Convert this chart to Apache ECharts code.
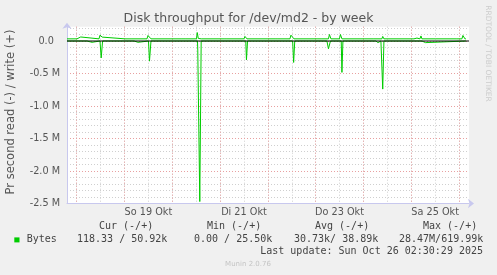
<!DOCTYPE html>
<html><head><meta charset="utf-8">
<script src="https://cdn.jsdelivr.net/npm/echarts@6/dist/echarts.min.js"></script>
<style>html,body{margin:0;padding:0;background:#f0f0f0;}#c{width:497px;height:275px;}</style>
</head><body><div id="c"></div>
<script>
// ---- data (x in hours since Sat 18 Oct 2025 00:00, y in bytes/s) ----
const xMinHour = -4.87;
const xMaxHour = 197;
const dayStartHours = [0, 24, 48, 72, 96, 120, 144, 168, 192];
const xLabelHours = [36, 84, 132, 180];
const xTickLabels = ['So 19 Okt', 'Di 21 Okt', 'Do 23 Okt', 'Sa 25 Okt'];
const yTicks = [-2500000, -2000000, -1500000, -1000000, -500000, 0];
const yTickLabels = ['-2.5 M', '-2.0 M', '-1.5 M', '-1.0 M', '-0.5 M', '0.0'];
const yMin = -2500000, yMax = 220000;

const writePoints = [
  [-4.87,33e3],[0.15,33e3],[0.55,62e3],[2.01,62e3],[2.51,33e3],
  [11.20,33e3],[11.70,90e3],[12.30,100e3],[12.80,60e3],[13.21,33e3],
  [24.25,33e3],[24.75,58e3],[25.25,33e3],
  [26.76,33e3],[27.26,55e3],[27.77,33e3],
  [35.30,33e3],[35.80,85e3],[36.80,85e3],[37.30,33e3],
  [48.35,33e3],[48.85,48e3],[49.35,33e3],
  [52.87,33e3],[53.37,58e3],[53.87,33e3],
  [54.87,33e3],[55.37,55e3],[55.87,33e3],
  [60.15,33e3],[60.55,130e3],[61.05,40e3],[62.51,33e3],
  [72.45,33e3],[72.95,60e3],[73.45,33e3],
  [74.45,33e3],[74.96,52e3],[75.46,33e3],
  [84.00,33e3],[84.50,70e3],[85.00,60e3],[85.50,33e3],
  [96.05,33e3],[96.55,58e3],[97.05,33e3],
  [100.06,33e3],[100.56,58e3],[101.07,33e3],
  [107.09,33e3],[107.59,90e3],[108.59,85e3],[109.10,33e3],
  [121.15,33e3],[121.65,58e3],[122.15,33e3],
  [123.16,33e3],[123.66,52e3],[124.16,33e3],
  [126.42,33e3],[126.92,100e3],[127.42,70e3],[127.67,33e3],
  [131.94,33e3],[132.44,100e3],[132.84,70e3],[133.19,33e3],
  [144.75,33e3],[145.25,62e3],[145.75,33e3],
  [149.26,33e3],[149.76,58e3],[150.26,33e3],
  [153.27,33e3],[153.68,70e3],[154.28,33e3],
  [156.31,33e3],[156.81,62e3],[157.31,33e3],
  [168.35,33e3],[168.86,45e3],[169.36,33e3],
  [170.36,33e3],[170.86,45e3],[171.36,33e3],
  [172.37,33e3],[172.87,78e3],[173.37,33e3],
  [180.15,33e3],[180.65,55e3],[181.15,33e3],
  [190.94,33e3],[191.44,50e3],[191.94,33e3],
  [193.45,33e3],[193.95,85e3],[194.45,60e3],[194.95,33e3],[195.45,33e3]
];

const readPoints = [
  [-4.87,0],
  [5.17,0],[5.67,-20e3],[7.68,-20e3],[8.18,0],
  [11.70,0],[12.30,-260e3],[12.70,-260e3],[13.00,0],
  [25.76,0],[26.26,-20e3],[26.76,0],
  [28.77,0],[29.27,-20e3],[30.78,-20e3],[31.28,0],
  [36.05,0],[36.55,-310e3],[36.95,-310e3],[37.30,0],
  [53.87,0],[54.37,-25e3],[54.87,0],
  [60.65,0],[60.80,-140e3],[61.56,-140e3],[61.81,-2470e3],[62.31,-2470e3],[62.51,0],
  [77.97,0],[78.47,-15e3],[78.97,0],
  [84.90,0],[85.25,-290e3],[85.55,-290e3],[85.80,0],
  [102.07,0],[102.57,-20e3],[103.07,0],
  [108.44,0],[108.94,-330e3],[109.25,-330e3],[109.50,0],
  [115.62,0],[116.12,-20e3],[116.63,0],
  [125.66,0],[126.42,-120e3],[126.92,-120e3],[127.42,0],
  [132.84,0],[133.19,-483e3],[133.49,-483e3],[133.69,0],
  [150.26,0],[150.77,-25e3],[151.27,-25e3],[151.77,0],
  [152.27,-40e3],[152.77,0],
  [153.27,0],[153.68,-740e3],[154.03,-740e3],[154.28,0],
  [173.37,0],[173.87,-25e3],[175.12,-25e3],[175.62,0],
  [195.45,0]
];

const legendHeaders = ['Cur (-/+)', 'Min (-/+)', 'Avg (-/+)', 'Max (-/+)'];
const legendSeriesName = 'Bytes';
const legendValues = ['118.33 / 50.92k', '0.00 / 25.50k', '30.73k/ 38.89k', '28.47M/619.99k'];
const titleText = 'Disk throughput for /dev/md2 - by week';
const yAxisName = 'Pr second read (-) / write (+)';
const lastUpdate = 'Last update: Sun Oct 26 02:30:29 2025';
const footerText = 'Munin 2.0.76';
const sideText = 'RRDTOOL / TOBI OETIKER';

// ---- grid helper tick positions ----
const halfDayHours = [];
for (let h = 0; h <= 192; h += 12) halfDayHours.push(h);
const yMinorTicks = [];
for (let k = -25; k <= 2; k++) yMinorTicks.push(k * 100000);

const GREEN = '#00cc00';
const AXISC = '#c8c8ee';
const MAJOR = '#e8a0a0';
const MINOR = '#cfcfcf';
const SANS = 'DejaVu Sans';
const MONO = 'DejaVu Sans Mono';

const chart = echarts.init(document.getElementById('c'), null, {renderer: 'canvas'});

const monoText = (x, y, text, align) => ({
  type: 'text', x, y,
  style: {text, fill: '#444', font: '10px "' + MONO + '"', align: align || 'left', verticalAlign: 'middle'}
});

const graphics = [
  {type: 'text', x: 248.5, y: 19, style: {text: titleText, fill: '#555', font: '12.5px "' + SANS + '"', align: 'center', verticalAlign: 'middle'}},
  {type: 'text', x: 11, y: 112, rotation: Math.PI / 2, style: {text: yAxisName, fill: '#555', font: '11.5px "' + SANS + '"', align: 'center', verticalAlign: 'middle'}},
  {type: 'text', x: 487.5, y: 53.5, rotation: -Math.PI / 2, style: {text: sideText, fill: '#cccccc', font: '7.5px "' + SANS + '"', align: 'center', verticalAlign: 'middle'}},
  {type: 'rect', shape: {x: 14.3, y: 237.4, width: 5.2, height: 5}, style: {fill: GREEN}},
  monoText(26.7, 239.7, legendSeriesName),
  monoText(483, 251.7, lastUpdate, 'right'),
  {type: 'text', x: 248, y: 264, style: {text: footerText, fill: '#c4c4c4', font: '7px "' + SANS + '"', align: 'center', verticalAlign: 'middle'}}
];
const headerX = [99, 207, 315, 423];
const valueX = [77, 194, 294, 399];
legendHeaders.forEach((t, i) => graphics.push(monoText(headerX[i], 226.7, t)));
legendValues.forEach((t, i) => graphics.push(monoText(valueX[i], 239.7, t)));

const option = {
  animation: false,
  backgroundColor: '#f0f0f0',
  grid: {left: 67, right: 28, top: 26.7, bottom: 71.5, show: true, backgroundColor: '#ffffff', borderWidth: 0},
  xAxis: [
    {
      type: 'value', min: xMinHour, max: xMaxHour, position: 'bottom', z: 1,
      axisLine: {show: true, onZero: false, lineStyle: {color: AXISC, width: 1}, symbol: ['none', 'arrow'], symbolSize: [7, 6], symbolOffset: [0, 5]},
      axisTick: {show: false, customValues: dayStartHours},
      axisLabel: {
        show: true, customValues: xLabelHours, margin: 4, color: '#555', fontFamily: SANS, fontSize: 9.7,
        formatter: v => { const i = xLabelHours.indexOf(v); return i >= 0 ? xTickLabels[i] : ''; }
      },
      splitLine: {show: true, lineStyle: {color: MAJOR, width: 1, type: [1, 2]}}
    },
    {
      type: 'value', min: xMinHour, max: xMaxHour, position: 'bottom', z: 0,
      axisLine: {show: false}, axisTick: {show: false, customValues: halfDayHours}, axisLabel: {show: false},
      splitLine: {show: true, lineStyle: {color: MINOR, width: 1, type: [1, 2]}}
    }
  ],
  yAxis: [
    {
      type: 'value', min: yMin, max: yMax, position: 'left', z: 1,
      axisLine: {show: true, onZero: false, lineStyle: {color: AXISC, width: 1}, symbol: ['none', 'arrow'], symbolSize: [7, 6], symbolOffset: [0, 4]},
      axisTick: {show: false, customValues: yTicks},
      axisLabel: {
        show: true, customValues: yTicks, margin: 7, color: '#555', fontFamily: SANS, fontSize: 9.7,
        formatter: v => { const i = yTicks.indexOf(v); if (i < 0) return ''; const s = yTickLabels[i]; return s.indexOf(' ') < 0 ? s + '  ' : s; }
      },
      splitLine: {show: true, lineStyle: {color: MAJOR, width: 1, type: [1, 2]}}
    },
    {
      type: 'value', min: yMin, max: yMax, position: 'left', z: 0,
      axisLine: {show: false}, axisTick: {show: false, customValues: yMinorTicks}, axisLabel: {show: false},
      splitLine: {show: true, lineStyle: {color: MINOR, width: 1, type: [1, 2]}}
    }
  ],
  series: [
    {name: 'read', type: 'line', xAxisIndex: 0, yAxisIndex: 0, data: readPoints, showSymbol: false, symbol: 'none',
     lineStyle: {color: GREEN, width: 1}, z: 2, silent: true},
    {name: 'write', type: 'line', xAxisIndex: 0, yAxisIndex: 0, data: writePoints, showSymbol: false, symbol: 'none',
     lineStyle: {color: GREEN, width: 1}, z: 2, silent: true},
    {name: 'zero', type: 'line', xAxisIndex: 0, yAxisIndex: 0, data: [[xMinHour, 0], [xMaxHour, 0]], showSymbol: false, symbol: 'none',
     lineStyle: {color: '#000000', width: 1}, z: 3, silent: true}
  ],
  graphic: graphics
};
chart.setOption(option);
</script></body></html>
